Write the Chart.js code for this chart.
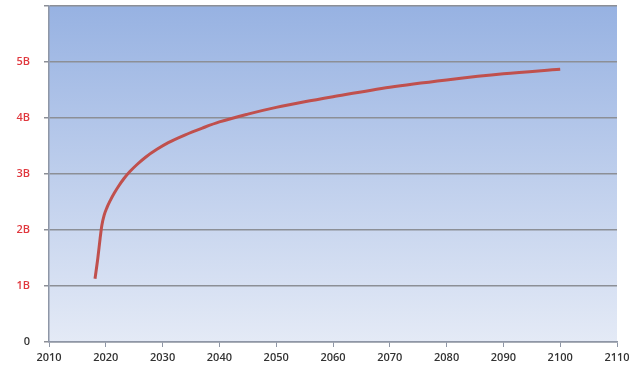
<!DOCTYPE html>
<html>
<head>
<meta charset="utf-8">
<script src="https://cdn.jsdelivr.net/npm/chart.js@4"></script>
<style>
  html, body { margin: 0; padding: 0; background: #fff; }
  #wrap { width: 640px; height: 376px; }
</style>
</head>
<body>
<div id="wrap"><canvas id="chart" width="640" height="376"></canvas></div>
<script>
// Data (values in billions)
const years = [2018.1, 2018.6, 2019.0, 2019.3, 2019.7, 2020.2, 2020.8, 2021.5, 2022.3, 2023.2, 2024.2,
               2025.5, 2027, 2029, 2031, 2034, 2037, 2040, 2045, 2050, 2055, 2060,
               2070, 2080, 2090, 2100];
const valuesB = [1.13, 1.5, 1.85, 2.08, 2.26, 2.4, 2.53, 2.66, 2.79, 2.92, 3.04,
                 3.17, 3.3, 3.44, 3.56, 3.7, 3.82, 3.93, 4.07, 4.19, 4.29, 4.38,
                 4.55, 4.68, 4.79, 4.87];
const xTicks = [2010, 2020, 2030, 2040, 2050, 2060, 2070, 2080, 2090, 2100, 2110];
const yTicksB = [0, 1, 2, 3, 4, 5, 6];

const points = years.map((y, i) => ({ x: y, y: valuesB[i] * 1e9 }));

// Gradient plot background
const plotBackground = {
    id: 'plotBackground',
    beforeDraw(chart) {
        const { ctx, chartArea } = chart;
        if (!chartArea) return;
        const g = ctx.createLinearGradient(0, chartArea.top, 0, chartArea.bottom);
        g.addColorStop(0, '#97b2e2');
        g.addColorStop(1, '#e4eaf6');
        ctx.save();
        ctx.fillStyle = g;
        ctx.fillRect(chartArea.left, chartArea.top, chartArea.right - chartArea.left, chartArea.bottom - chartArea.top);
        ctx.restore();
    }
};

new Chart(document.getElementById('chart'), {
    type: 'line',
    data: {
        datasets: [{
            data: points,
            borderColor: '#c0504d',
            borderWidth: 3,
            pointRadius: 0,
            cubicInterpolationMode: 'monotone',
            fill: false
        }]
    },
    options: {
        responsive: false,
        animation: false,
        layout: { padding: { top: 6, right: 23, left: 0, bottom: 0 } },
        plugins: {
            legend: { display: false },
            tooltip: { enabled: false }
        },
        scales: {
            x: {
                type: 'linear',
                min: xTicks[0],
                max: xTicks[xTicks.length - 1],
                afterBuildTicks: scale => { scale.ticks = xTicks.map(v => ({ value: v })); },
                afterFit: scale => { scale.height = 34; },
                border: { color: '#8e96a6', width: 1.5 },
                grid: { drawOnChartArea: false, drawTicks: true, tickLength: 5, color: '#8e96a6' },
                ticks: {
                    color: '#333',
                    padding: 4,
                    font: { family: 'Open Sans', size: 11, weight: '600' },
                    callback: v => String(v),
                    maxRotation: 0
                }
            },
            y: {
                min: 0,
                max: 6e9,
                afterBuildTicks: scale => { scale.ticks = yTicksB.map(v => ({ value: v * 1e9 })); },
                afterFit: scale => { scale.width = 49; scale.paddingTop = 0; scale.paddingBottom = 0; },
                border: { color: '#8e96a6', width: 1.5 },
                grid: { color: '#8c8f96', lineWidth: 1.5, tickLength: 5 },
                ticks: {
                    padding: 14,
                    font: { family: 'Open Sans', size: 11, weight: '600' },
                    color: ctx => ctx.tick && ctx.tick.value === 0 ? '#333' : '#e0383e',
                    callback: v => {
                        const b = Math.round(v / 1e9);
                        if (b === 0) return '0';
                        if (b === 6) return '';
                        return b + 'B';
                    }
                }
            }
        }
    },
    plugins: [plotBackground]
});
</script>
</body>
</html>
